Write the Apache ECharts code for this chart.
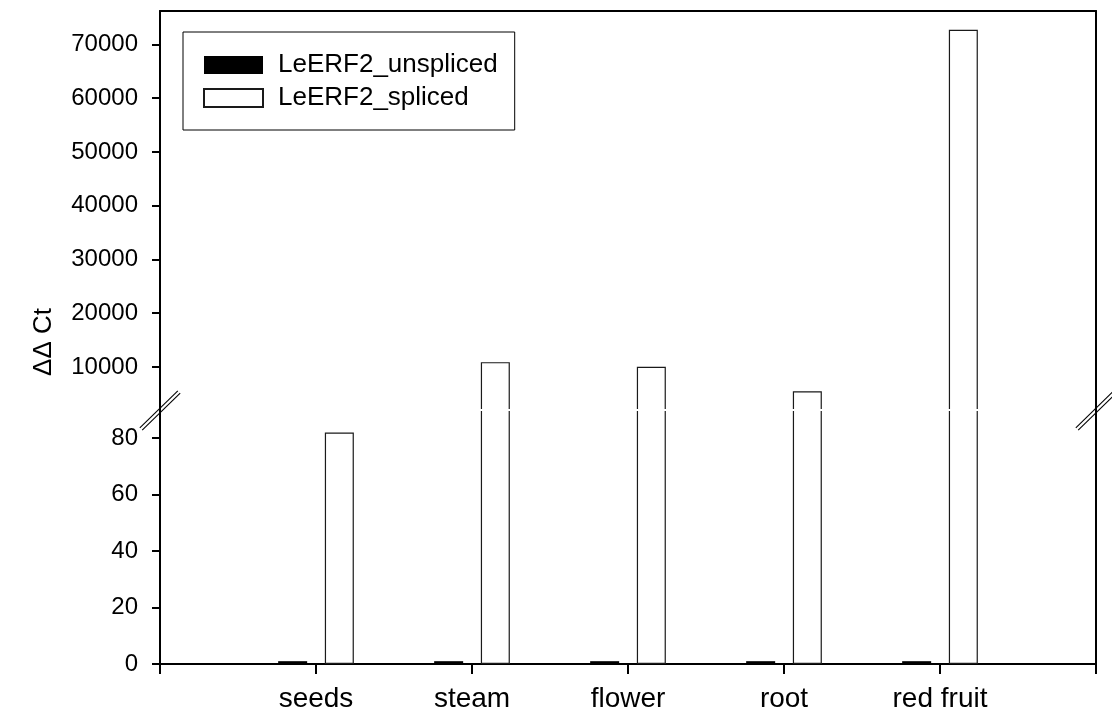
<!DOCTYPE html>
<html>
<head>
<meta charset="utf-8">
<script src="https://cdn.jsdelivr.net/npm/echarts@6/dist/echarts.min.js"></script>
<style>
  html, body { margin: 0; padding: 0; background: #fff; }
  #chart { width: 1112px; height: 724px; }
</style>
</head>
<body>
<div id="chart"></div>
<script>
const categories = ['seeds', 'steam', 'flower', 'root', 'red fruit'];
const unspliced = [1, 1, 1, 1, 1];
const spliced = [82, 10900, 10050, 5500, 72700];
const upperTicks = [10000, 20000, 30000, 40000, 50000, 60000, 70000];
const lowerTicks = [0, 20, 40, 60, 80];

// broken axis: upper panel 2000..76200, lower panel 0..90
const FONT = '"Liberation Sans", Arial, sans-serif';
const LEFT = 160, RIGHT = 16, TOP = 11, BREAK_Y = 410, BOTTOM_Y = 664;

const axisCats = [''].concat(categories, ['']);
const pad = arr => ['-'].concat(arr, ['-']);

const lineStyle = { color: '#000', width: 2 };

function sideAxis(grid) {
  return {
    type: 'value', gridIndex: grid, position: 'right', min: 0, max: 1,
    axisLine: { show: true, onZero: false, lineStyle: lineStyle },
    axisTick: { show: false }, axisLabel: { show: false }, splitLine: { show: false }
  };
}

function breakMark(cx, cy) {
  const lines = [];
  [-1.2, 1.2].forEach(o => {
    lines.push({
      type: 'line', z: 110,
      shape: { x1: cx - 19 + o, y1: cy + 18.5 + o, x2: cx + 19 + o, y2: cy - 18.5 + o },
      style: { stroke: '#000', lineWidth: 1.1 }
    });
  });
  return lines;
}

const barBase = { type: 'bar', barWidth: 29, barGap: '61%' };
const blackStyle = { color: '#000' };
const whiteStyle = { color: '#fff', borderColor: '#1a1a1a', borderWidth: 1.2 };

const chart = echarts.init(document.getElementById('chart'));
chart.setOption({
  animation: false,
  backgroundColor: '#fff',
  textStyle: { fontFamily: FONT, color: '#000' },
  legend: {
    orient: 'vertical', left: 183, top: 32,
    data: ['LeERF2_unspliced', 'LeERF2_spliced'],
    icon: 'rect', itemWidth: 59, itemHeight: 18, itemGap: 7,
    padding: [20, 17, 19, 20],
    borderColor: '#000', borderWidth: 1,
    textStyle: { fontSize: 26, color: '#000', fontFamily: FONT, padding: [0, 0, 0, 10] }
  },
  grid: [
    { left: LEFT, right: RIGHT, top: TOP, height: BREAK_Y - TOP },
    { left: LEFT, right: RIGHT, top: BREAK_Y, height: BOTTOM_Y - BREAK_Y }
  ],
  xAxis: [
    {
      type: 'category', gridIndex: 0, position: 'top', data: axisCats, boundaryGap: false,
      axisLine: { show: true, onZero: false, lineStyle: lineStyle },
      axisTick: { show: false }, axisLabel: { show: false }
    },
    {
      type: 'category', gridIndex: 1, position: 'bottom', data: axisCats, boundaryGap: false,
      axisLine: { show: true, onZero: false, lineStyle: lineStyle },
      axisTick: { interval: 0, length: 10, lineStyle: lineStyle },
      axisLabel: { interval: 0, fontSize: 28, margin: 21, color: '#000', fontFamily: FONT }
    }
  ],
  yAxis: [
    {
      type: 'value', gridIndex: 0, min: 2000, max: 76200,
      axisLine: { show: true, onZero: false, lineStyle: lineStyle },
      axisTick: { show: true, length: 8, customValues: upperTicks, lineStyle: lineStyle },
      axisLabel: {
        customValues: upperTicks, fontSize: 24, margin: 22, color: '#000', fontFamily: FONT,
        formatter: v => String(v)
      },
      splitLine: { show: false }
    },
    sideAxis(0),
    {
      type: 'value', gridIndex: 1, min: 0, max: 90,
      axisLine: { show: true, onZero: false, lineStyle: lineStyle },
      axisTick: { show: true, length: 8, customValues: lowerTicks, lineStyle: lineStyle },
      axisLabel: {
        customValues: lowerTicks, fontSize: 24, margin: 22, color: '#000', fontFamily: FONT,
        formatter: v => String(v)
      },
      splitLine: { show: false }
    },
    sideAxis(1)
  ],
  series: [
    Object.assign({ name: 'LeERF2_unspliced', xAxisIndex: 0, yAxisIndex: 0, data: pad(unspliced), itemStyle: blackStyle }, barBase),
    Object.assign({ name: 'LeERF2_spliced', xAxisIndex: 0, yAxisIndex: 0, data: pad(spliced), itemStyle: whiteStyle }, barBase),
    Object.assign({ name: 'LeERF2_unspliced', xAxisIndex: 1, yAxisIndex: 2, data: pad(unspliced), itemStyle: blackStyle }, barBase),
    Object.assign({ name: 'LeERF2_spliced', xAxisIndex: 1, yAxisIndex: 2, data: pad(spliced), itemStyle: whiteStyle }, barBase)
  ],
  graphic: [
    // white gap where the bars cross the axis break
    {
      type: 'rect', z: 100,
      shape: { x: LEFT + 2, y: BREAK_Y - 1, width: 1112 - RIGHT - LEFT - 4, height: 2 },
      style: { fill: '#fff' }
    },
    {
      type: 'text', z: 100, x: 44, y: 342, rotation: Math.PI / 2,
      style: { text: 'ΔΔ Ct', fontSize: 26, fill: '#000', fontFamily: FONT, align: 'center', verticalAlign: 'middle' }
    }
  ].concat(breakMark(LEFT, BREAK_Y + 0.5), breakMark(1112 - RIGHT, BREAK_Y + 0.5))
});
</script>
</body>
</html>
